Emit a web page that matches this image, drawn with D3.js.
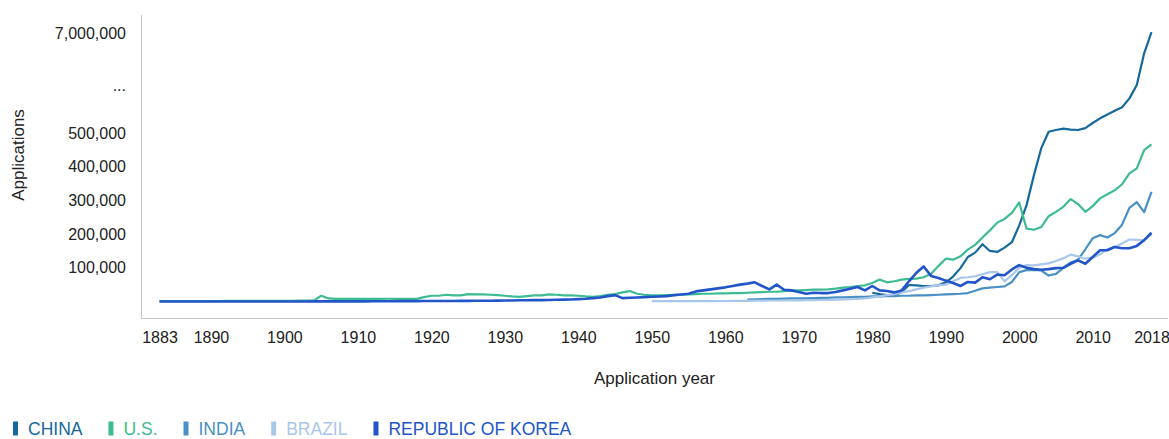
<!DOCTYPE html>
<html>
<head>
<meta charset="utf-8">
<script src="https://cdn.jsdelivr.net/npm/d3@7"></script>
<style>
  html, body { margin: 0; padding: 0; background: #fff; }
  svg { display: block; font-family: "Liberation Sans", Arial, sans-serif; }
</style>
</head>
<body>
<svg id="chart" width="1169" height="439"></svg>
<script>
// ---- Data (values in thousands of applications) ----
const xTickYears = [1883, 1890, 1900, 1910, 1920, 1930, 1940, 1950, 1960, 1970, 1980, 1990, 2000, 2010, 2018];
const yTickValues = [100000, 200000, 300000, 400000, 500000, 3600000, 7000000];
const yTickLabels = ["100,000", "200,000", "300,000", "400,000", "500,000", "...", "7,000,000"];

const seriesNames = ["CHINA", "U.S.", "INDIA", "BRAZIL", "REPUBLIC OF KOREA"];
const seriesColors = ["#16699c", "#3dbb92", "#4a90c4", "#a8c7ea", "#2256c8"];

const chinaStart = 1980;
const chinaValues = [26, 22, 19, 18, 28, 49, 48, 46, 46, 48,
  57, 74, 99, 132, 145, 170, 150, 147, 160, 176,
  226, 286, 375, 455, 584, 695, 780, 715, 695, 820,
  1150, 1455, 1700, 1950, 2170, 2750, 3620, 5680, 7050];

const usStart = 1883;
const usValues = [1.0, 1.1, 1.2, 1.2, 1.3, 1.3, 1.4, 1.4, 1.5, 1.6, 1.6, 1.7, 1.8, 1.9, 2.0, 2.0, 2.1, 2.2, 2.3, 2.4, 2.5, 2.7,
  17, 9, 8, 7.5, 7.5, 7.5, 7.8, 8, 8, 8.2, 8, 8, 8, 8,
  13, 17, 17, 20, 18, 18, 22, 21, 21, 20, 19, 17, 15, 14, 16, 18, 18, 21, 20, 18, 18, 17,
  15, 14, 16, 20, 22, 27, 31, 23, 20, 18, 18, 19, 19, 20, 21, 22, 23, 23, 24, 24,
  25, 25, 26, 27, 28, 29, 29, 31, 32, 33, 34, 35, 35, 36, 38, 41, 43, 46, 48, 55,
  65, 57, 60, 65, 67, 68, 72, 82, 105, 127, 124, 134, 154, 168, 190, 211, 234, 245, 263, 294,
  216, 213, 221, 253, 266, 281, 304, 289, 266, 283, 306, 318, 330, 348, 380, 395, 449, 466];

const indiaStart = 1963;
const indiaValues = [6, 6.5, 7, 7.5, 8, 8.5, 9,
  9, 9.5, 10, 10.5, 11, 12, 12.5, 13, 13.5, 14,
  15, 15, 16, 16, 17, 17, 18, 18, 19, 20,
  21, 22, 23, 25, 32, 39, 41, 43, 45, 58,
  87, 93, 94, 92, 77, 82, 100, 116, 124, 155,
  188, 197, 190, 203, 228, 278, 295, 265, 325];

const brazilStart = 1950;
const brazilValues = [1, 1, 1, 1, 1, 1, 1, 1, 1, 1.5,
  1.5, 2, 2, 2, 2.5, 2.5, 3, 3, 3, 3.5,
  3.5, 4, 4, 4.5, 5, 5.5, 6, 7, 8, 9,
  12, 15, 19, 22, 27, 31, 36, 41, 45, 48,
  50, 60, 70, 72, 75, 81, 87, 87, 60, 78,
  100, 108, 107, 110, 113, 120, 128, 139, 134, 127,
  130, 140, 155, 162, 172, 184, 183, 182, 200];

const koreaStart = 1883;
const koreaValues = [0.1, 0.1, 0.1, 0.1, 0.1, 0.1, 0.1, 0.1, 0.1, 0.1, 0.1, 0.1, 0.1, 0.1, 0.1, 0.2, 0.2, 0.2, 0.2, 0.2, 0.2, 0.3, 0.3, 0.3, 0.3, 0.4, 0.4,
  0.5, 0.5, 0.6, 0.7, 0.8, 0.9, 1.0, 1.1, 1.2, 1.3, 1.4, 1.5, 1.6, 1.7, 1.8, 2.0, 2.1, 2.2, 2.4, 2.5,
  3, 3, 3.5, 3.5, 4, 4, 4.5, 5, 5.5, 6,
  7, 8, 10, 12, 16, 19, 10, 11, 12, 13,
  14, 15, 16, 19, 21, 23, 30, 33, 36, 39,
  42, 46, 50, 53, 57, 46, 36, 50, 35, 33,
  28, 23, 26, 25, 25, 28, 33, 38, 43, 33,
  46, 33, 31, 27, 33, 60, 85, 104, 76, 70,
  62, 55, 46, 58, 56, 72, 66, 80, 78, 95,
  108, 100, 96, 94, 96, 99, 100, 112, 122, 112,
  132, 152, 152, 162, 158, 158, 165, 182, 204];

const seriesStarts = [chinaStart, usStart, indiaStart, brazilStart, koreaStart];
const seriesValues = [chinaValues, usValues, indiaValues, brazilValues, koreaValues];

// ---- Drawing ----
(function () {
const svg = d3.select("#chart");
const mLeft = 141, mRight = 1168, mTop = 15, mBottom = 318;

const x = d3.scaleLinear().domain([1883, 2018]).range([159.5, 1151.5]);
// broken axis: linear up to 500,000, compressed above
const y = d3.scaleLinear().domain([0, 500000, 7000000]).range([301.5, 133, 33]);

// frame lines
svg.append("line").attr("x1", mLeft + 0.5).attr("x2", mLeft + 0.5).attr("y1", mTop).attr("y2", mBottom)
  .attr("stroke", "#c8c8c8").attr("stroke-width", 1);
svg.append("line").attr("x1", mLeft).attr("x2", mRight).attr("y1", mBottom + 0.5).attr("y2", mBottom + 0.5)
  .attr("stroke", "#c8c8c8").attr("stroke-width", 1);

// y axis
const yAxis = d3.axisLeft(y).tickValues(yTickValues).tickSize(0).tickPadding(15)
  .tickFormat((d, i) => yTickLabels[i]);
const gy = svg.append("g").attr("transform", `translate(${mLeft},0)`).call(yAxis);
gy.select(".domain").remove();
gy.selectAll("text").attr("font-size", 16).attr("fill", "#222").attr("font-family", "Liberation Sans, Arial, sans-serif");

// x axis
const xAxis = d3.axisBottom(x).tickValues(xTickYears).tickSize(0).tickPadding(14).tickFormat(d3.format("d"));
const gx = svg.append("g").attr("transform", `translate(0,${mBottom})`).call(xAxis);
gx.select(".domain").remove();
gx.selectAll("text").attr("font-size", 16).attr("fill", "#222").attr("font-family", "Liberation Sans, Arial, sans-serif");

// axis titles
svg.append("text").attr("x", (mLeft + mRight) / 2).attr("y", 384).attr("text-anchor", "middle")
  .attr("font-size", 17).attr("fill", "#222").text("Application year");
svg.append("text").attr("transform", "translate(24,155) rotate(-90)").attr("text-anchor", "middle")
  .attr("font-size", 17).attr("fill", "#222").text("Applications");

// lines
const line = d3.line().x(d => x(d[0])).y(d => y(d[1]));
seriesNames.forEach((name, i) => {
  const pts = seriesValues[i].map((v, j) => [seriesStarts[i] + j, v * 1000]);
  svg.append("path").datum(pts)
    .attr("fill", "none")
    .attr("stroke", seriesColors[i])
    .attr("stroke-width", i === 4 ? 2.6 : 2.2)
    .attr("stroke-linejoin", "round")
    .attr("d", line);
});

// legend
const legend = svg.append("g").attr("transform", "translate(13,0)");
let lx = 0;
seriesNames.forEach((name, i) => {
  legend.append("rect").attr("x", lx).attr("y", 421.5).attr("width", 5).attr("height", 14).attr("fill", seriesColors[i]);
  const t = legend.append("text").attr("x", lx + 15).attr("y", 434.5).attr("font-size", 17.5)
    .attr("fill", seriesColors[i]).text(name);
  lx += 15 + t.node().getComputedTextLength() + 26;
});
})();
</script>
</body>
</html>
